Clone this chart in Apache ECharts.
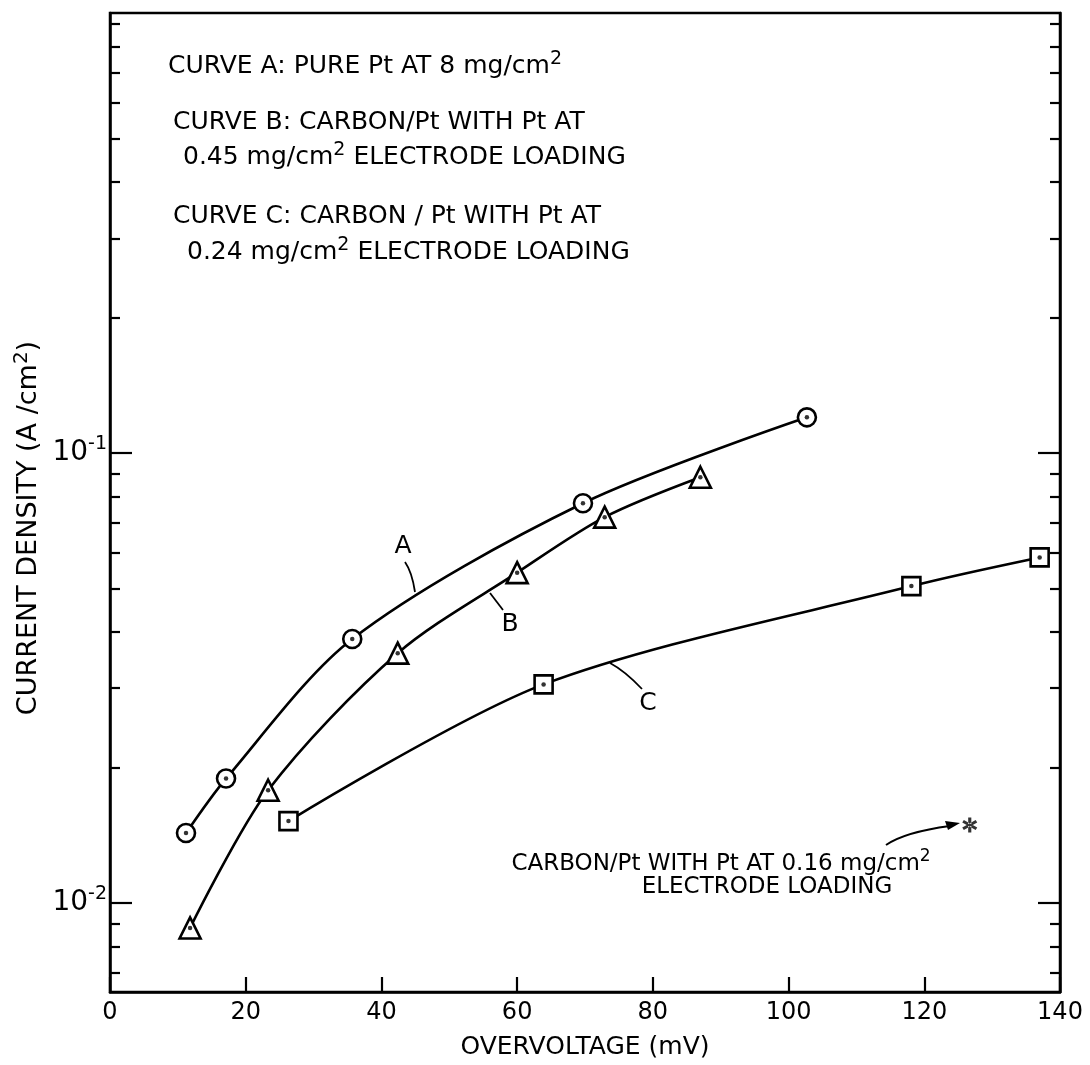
<!DOCTYPE html>
<html><head><meta charset="utf-8">
<script src="https://cdn.jsdelivr.net/npm/echarts@6/dist/echarts.min.js"></script>
<style>html,body{margin:0;padding:0;background:#fff}#c{width:1090px;height:1065px}</style>
</head><body><div id="c"></div>
<script>
// ---- data ----
const voltA = [11.2, 17.1, 35.7, 69.7, 102.7];
const currA = [0.0143, 0.0189, 0.0386, 0.0773, 0.120];
const voltB = [11.8, 23.3, 42.4, 60.0, 72.9, 87.0];
const currB = [0.0088, 0.0178, 0.0359, 0.0542, 0.0720, 0.0883];
const voltC = [26.3, 63.9, 118.1, 137.0];
const currC = [0.0152, 0.0306, 0.0506, 0.0586];
const voltStar = [126.7];
const currStar = [0.0149];
const xTickValues = [0, 20, 40, 60, 80, 100, 120, 140];
const yMajorTicks = [0.01, 0.1];
const yMinorTicks = [0.007, 0.008, 0.009, 0.02, 0.03, 0.04, 0.05, 0.06, 0.07, 0.08, 0.09,
                     0.2, 0.3, 0.4, 0.5, 0.6, 0.7, 0.8, 0.9];
const legendLines = [
  '{n|CURVE A: PURE Pt AT 8 mg/cm}{s|2}',
  '{n|CURVE B: CARBON/Pt WITH Pt AT}',
  '{n|0.45 mg/cm}{s|2}{n| ELECTRODE LOADING}',
  '{n|CURVE C: CARBON / Pt WITH Pt AT}',
  '{n|0.24 mg/cm}{s|2}{n| ELECTRODE LOADING}'
];
const starNote = ['{n|CARBON/Pt WITH Pt AT 0.16 mg/cm}{s|2}', '{n|ELECTRODE LOADING}'];
const yTitle = '{n|CURRENT DENSITY (A /cm}{s|2}{n|)}';
const xTitle = 'OVERVOLTAGE (mV)';
const curveNames = ['A', 'B', 'C'];

// ---- layout / style ----
const FONT = 'DejaVu Sans';
const X_MIN = 0, X_MAX = 140, Y_MIN = 0.00634, Y_MAX = 0.95;
const zip = (xs, ys) => xs.map((x, i) => [x, ys[i]]);
const richText = (n) => ({
  n: { fontFamily: FONT, fontSize: n, lineHeight: n + 8, color: '#000' },
  s: { fontFamily: FONT, fontSize: Math.round(n * 0.75), lineHeight: Math.round(n * 0.75), verticalAlign: 'top', color: '#000' },
  b: { fontFamily: FONT, fontSize: n, lineHeight: n + 8, color: '#000' }
});
const STAR_PATH = 'path://M5.6 0 L8.4 0 L8.4 14 L5.6 14 Z M12.3 11.7 L13.7 9.3 L1.7 2.3 L0.3 4.7 Z M13.7 4.7 L12.3 2.3 L0.3 9.3 L1.7 11.7 Z';

function yAxisDef(position, ticks, len, showLine, withLabels) {
  const ax = {
    type: 'log', logBase: 10, min: Y_MIN, max: Y_MAX, position: position,
    axisLine: { show: showLine, lineStyle: { color: '#000', width: 2.5 } },
    axisTick: { show: true, inside: true, length: len, customValues: ticks, lineStyle: { color: '#000', width: 2.2 } },
    axisLabel: { show: false },
    splitLine: { show: false }, minorTick: { show: false }
  };
  if (withLabels) {
    ax.axisLabel = {
      show: true, customValues: ticks, margin: 3, fontFamily: FONT, fontSize: 28, color: '#000',
      formatter: v => '{b|10}{s|' + Math.round(Math.log10(v)) + '}',
      rich: {
        b: { fontFamily: FONT, fontSize: 28, lineHeight: 36, color: '#000' },
        s: { fontFamily: FONT, fontSize: 19, lineHeight: 19, verticalAlign: 'top', color: '#000' }
      }
    };
  }
  return ax;
}

const lineSeries = (name, data, symbol, size) => ({
  name: name, type: 'line', data: data, smooth: 0.3, symbol: symbol, symbolSize: size,
  showAllSymbol: true, z: 3,
  lineStyle: { color: '#000', width: 2.6 },
  itemStyle: { color: '#fff', borderColor: '#000', borderWidth: 2.6 },
  emphasis: { disabled: true }
});
const dotSeries = (data) => ({
  type: 'scatter', data: data, symbol: 'circle', symbolSize: 4.5, z: 5,
  itemStyle: { color: '#000' }, emphasis: { disabled: true }
});

const chart = echarts.init(document.getElementById('c'), null, { renderer: 'canvas' });

const textEl = (x, y, text, size, align, rot) => ({
  type: 'text', x: x, y: y, z: 10, rotation: rot || 0,
  style: { text: text, fill: '#000', font: size + 'px "' + FONT + '"', textAlign: align || 'left', textVerticalAlign: 'middle', rich: richText(size) }
});
const lineEl = (x1, y1, x2, y2, w) => ({
  type: 'line', z: 10, shape: { x1, y1, x2, y2 }, style: { stroke: '#000', lineWidth: w || 1.8 }
});

const legendPos = [[168, 66], [173, 122], [183, 157], [173, 216], [187, 252]];
const graphics = [];
legendLines.forEach((t, i) => graphics.push(textEl(legendPos[i][0], legendPos[i][1], t, 25)));
graphics.push(textEl(721, 864, starNote[0], 23, 'center'));
graphics.push(textEl(767, 887, starNote[1], 23, 'center'));
graphics.push(textEl(29, 528, yTitle, 27, 'center', Math.PI / 2));
// curve name labels + leader lines
const namePos = [[403, 546], [510, 624], [648, 703]];
curveNames.forEach((n, i) => graphics.push(textEl(namePos[i][0], namePos[i][1], '{n|' + n + '}', 25, 'center')));
graphics.push({ type: 'bezierCurve', z: 10, shape: { x1: 405, y1: 562, x2: 415, y2: 592, cpx1: 412, cpy1: 572 }, style: { stroke: '#000', lineWidth: 1.8, fill: null } });
graphics.push(lineEl(490, 593, 503, 610));
graphics.push({ type: 'bezierCurve', z: 10, shape: { x1: 610, y1: 663, x2: 642, y2: 689, cpx1: 625, cpy1: 671 }, style: { stroke: '#000', lineWidth: 1.8, fill: null } });
// arrow to the star point
graphics.push({ type: 'bezierCurve', z: 10, shape: { x1: 886, y1: 845, x2: 950, y2: 826, cpx1: 905, cpy1: 832 }, style: { stroke: '#000', lineWidth: 2, fill: null } });
graphics.push({ type: 'polygon', z: 10, shape: { points: [[960, 823], [945, 821], [948, 830]] }, style: { fill: '#000' } });

chart.setOption({
  animation: false,
  backgroundColor: '#fff',
  grid: { left: 110, right: 30, top: 13, bottom: 73, show: true, borderColor: '#000', borderWidth: 2.5, backgroundColor: 'transparent' },
  xAxis: {
    type: 'value', min: X_MIN, max: X_MAX, interval: 20, position: 'bottom',
    axisLine: { show: true, onZero: false, lineStyle: { color: '#000', width: 2.5 } },
    axisTick: { show: true, inside: true, length: 15, lineStyle: { color: '#000', width: 2.2 } },
    axisLabel: { color: '#000', fontFamily: FONT, fontSize: 24, margin: 9, formatter: v => xTickValues.includes(v) ? String(v) : '' },
    splitLine: { show: false },
    name: xTitle, nameLocation: 'middle', nameGap: 43,
    nameTextStyle: { color: '#000', fontFamily: FONT, fontSize: 25 }
  },
  yAxis: [
    yAxisDef('left', yMajorTicks, 22, true, true),
    yAxisDef('left', yMinorTicks, 10, false, false),
    yAxisDef('right', yMajorTicks, 22, true, false),
    yAxisDef('right', yMinorTicks, 10, false, false)
  ],
  series: [
    lineSeries('A', zip(voltA, currA), 'circle', 18),
    lineSeries('B', zip(voltB, currB), 'triangle', 21),
    lineSeries('C', zip(voltC, currC), 'rect', 18),
    dotSeries(zip(voltA, currA)),
    dotSeries(zip(voltB, currB)),
    dotSeries(zip(voltC, currC)),
    { type: 'scatter', data: zip(voltStar, currStar), symbol: STAR_PATH, symbolSize: 15, z: 5,
      itemStyle: { color: '#000' }, emphasis: { disabled: true } }
  ],
  graphic: graphics
});
</script></body></html>
